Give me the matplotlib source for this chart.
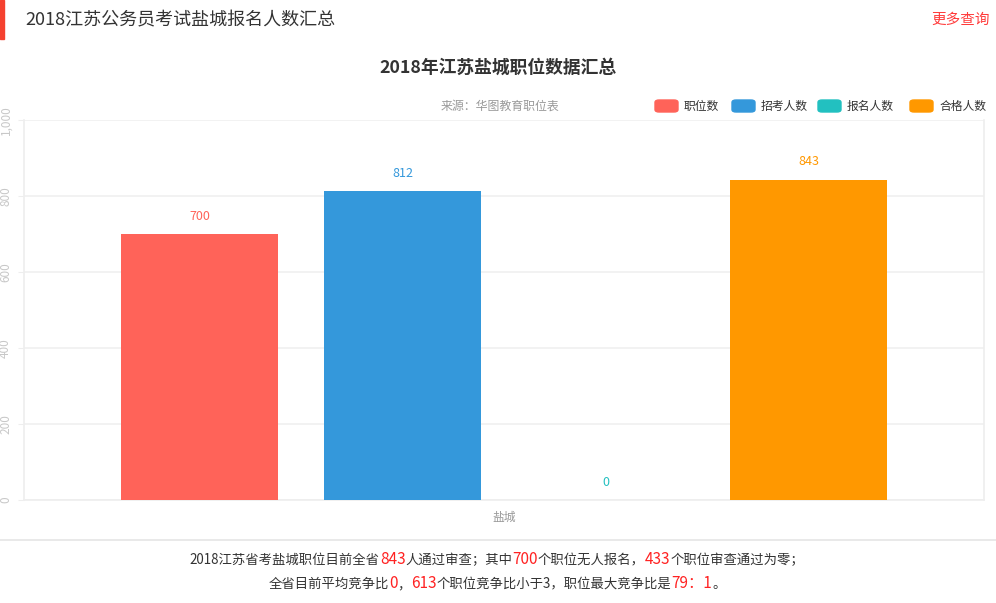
import matplotlib
matplotlib.use("Agg")
import matplotlib.pyplot as plt
from matplotlib.patches import FancyBboxPatch, Rectangle
from matplotlib.lines import Line2D

plt.rcParams['font.family'] = ['Noto Sans CJK SC', 'DejaVu Sans']

# data
category = "盐城"
series = ["职位数", "招考人数", "报名人数", "合格人数"]
values = [700, 812, 0, 843]
colors = ["#ff6359", "#3498db", "#22c0c0", "#ff9800"]
yticks = [0, 200, 400, 600, 800, 1000]
ytick_labels = ["0", "200", "400", "600", "800", "1,000"]

W, H = 996, 603
fig = plt.figure(figsize=(W / 100, H / 100), dpi=100)

def fx(px):
    return px / W

def fy(py):
    return 1 - py / H

# header
fig.patches.append(Rectangle((0, fy(39)), fx(4), 39 / H, transform=fig.transFigure,
                             color="#f5412f", zorder=5))
fig.text(fx(25), fy(20), "2018江苏公务员考试盐城报名人数汇总", fontsize=13,
         color="#333333", va="center", ha="left")
fig.text(fx(990), fy(20), "更多查询", fontsize=10.5, color="#ff3b3b",
         va="center", ha="right")

# chart title and source
fig.text(fx(498), fy(68), "2018年江苏盐城职位数据汇总", fontsize=12.8, fontweight="bold",
         color="#333333", va="center", ha="center")
fig.text(fx(500), fy(106), "来源：华图教育职位表", fontsize=8.6, color="#999999",
         va="center", ha="center")

# legend
leg_x = [655, 732, 818, 910]
for lx, name, c in zip(leg_x, series, colors):
    fig.patches.append(FancyBboxPatch((fx(lx), fy(112)), fx(23), 12 / H,
                                      boxstyle="round,pad=0,rounding_size=0.004",
                                      transform=fig.transFigure, color=c))
    fig.text(fx(lx + 29), fy(106), name, fontsize=8.5, color="#333333",
             va="center", ha="left")

# axes
ax = fig.add_axes([fx(24), 1 - 500 / H, 960 / W, 380 / H])
pitch = 0.2115
width = 0.1635
offsets = [(i - 1.5) * pitch for i in range(len(values))]
bars = ax.bar(offsets, values, width=width, color=colors, zorder=3)
for x, v, c in zip(offsets, values, colors):
    ax.annotate(str(v), (x, v), xytext=(0, 18), textcoords="offset pixels",
                ha="center", va="center", fontsize=9, color=c)

ax.set_xlim(-0.5, 0.5)
ax.set_ylim(0, 1000)
ax.set_yticks(yticks)
ax.set_yticklabels(ytick_labels, rotation=90, va="center", fontsize=8.5, color="#c8c8c8")
ax.set_xticks([0])
ax.set_xticklabels([category], fontsize=8.5, color="#999999")
ax.tick_params(axis="y", length=4, color="#eeeeee", pad=4.5)
ax.tick_params(axis="x", length=0, pad=8)
ax.grid(axis="y", color="#f0f0f0", linewidth=1.2, zorder=0)
for s in ["top"]:
    ax.spines[s].set_visible(False)
for s in ["left", "right", "bottom"]:
    ax.spines[s].set_color("#eeeeee")
    ax.spines[s].set_linewidth(1.2)

# separator
fig.add_artist(Line2D([0, 1], [fy(540), fy(540)], transform=fig.transFigure,
                      color="#e5e5e5", linewidth=1.2))

# footer text with colored numbers
lines = [
    [("2018江苏省考盐城职位目前全省", "#333333"), ("843", "#ff2222"),
     ("人通过审查；其中", "#333333"), ("700", "#ff2222"),
     ("个职位无人报名，", "#333333"), ("433", "#ff2222"),
     ("个职位审查通过为零；", "#333333")],
    [("全省目前平均竞争比", "#333333"), ("0", "#ff2222"), ("，", "#333333"),
     ("613", "#ff2222"), ("个职位竞争比小于3，职位最大竞争比是", "#333333"),
     ("79：1", "#ff2222"), ("。", "#333333")],
]
line_y = [560, 584]
fig.canvas.draw()
renderer = fig.canvas.get_renderer()
for parts, py in zip(lines, line_y):
    texts = []
    cur = 0.0
    for s, c in parts:
        fs = 11 if c == "#ff2222" else 9.6
        t = fig.text(0, fy(py), s, fontsize=fs, color=c, va="center", ha="left")
        w = t.get_window_extent(renderer).width
        texts.append((t, cur))
        cur += w
    start = 497 - cur / 2
    for t, off in texts:
        t.set_x(fx(start + off))

fig.savefig("out.png", dpi=100)
